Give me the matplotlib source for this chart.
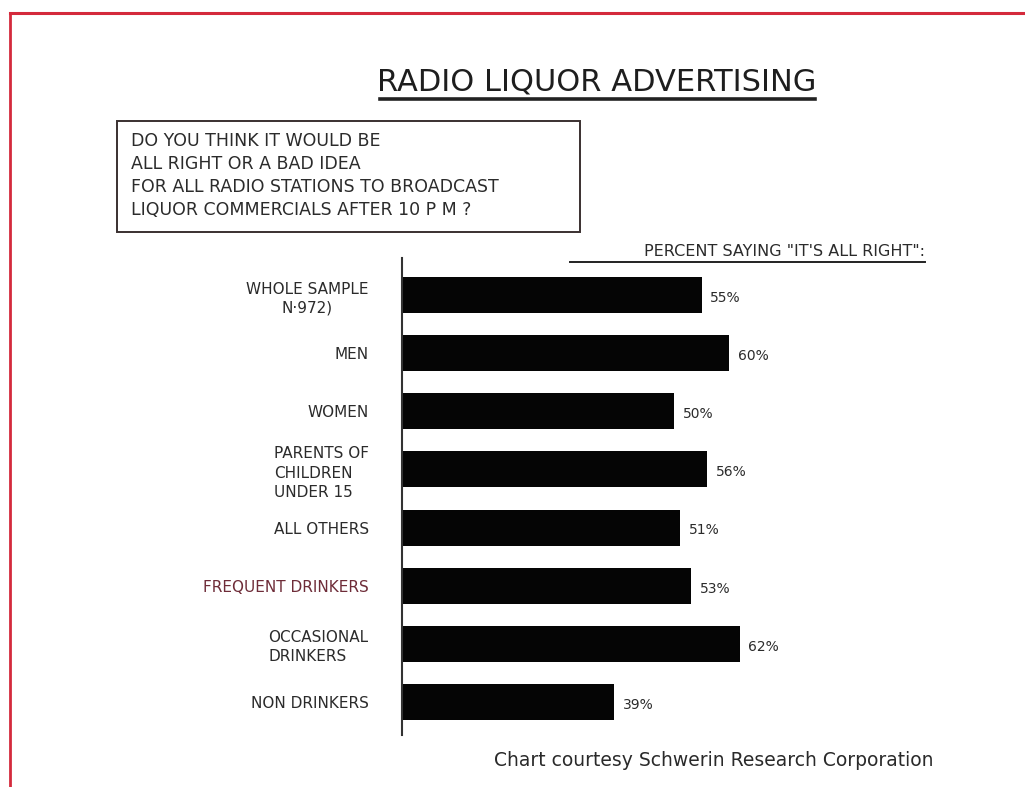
import matplotlib.pyplot as plt
from matplotlib.lines import Line2D
from matplotlib.patches import Rectangle

groups = ["WHOLE SAMPLE\nN·972)", "MEN", "WOMEN", "PARENTS OF\nCHILDREN\nUNDER 15",
          "ALL OTHERS", "FREQUENT DRINKERS", "OCCASIONAL\nDRINKERS", "NON DRINKERS"]
percent_all_right = [55, 60, 50, 56, 51, 53, 62, 39]
value_labels = ["55%", "60%", "50%", "56%", "51%", "53%", "62%", "39%"]
question = ["DO YOU THINK IT WOULD BE",
            "ALL RIGHT OR A BAD IDEA",
            "FOR ALL RADIO STATIONS TO BROADCAST",
            "LIQUOR COMMERCIALS AFTER 10 P M ?"]

plt.rcParams["font.family"] = "DejaVu Sans"
ink = "#2b2b2b"
red = "#d42a3c"

fig = plt.figure(figsize=(10.25, 7.87), dpi=100)
fig.patch.set_facecolor("white")

# red border of the scanned page
fig.add_artist(Line2D([10/1025, 1], [1 - 13/787, 1 - 13/787], color=red, lw=2.2))
fig.add_artist(Line2D([10/1025, 10/1025], [0, 1 - 13/787], color=red, lw=2.0))

# title and underline
fig.text(597/1025, 1 - 82/787, "RADIO LIQUOR ADVERTISING", ha="center", va="center",
         fontsize=22, color="#1e1e1e")
fig.add_artist(Line2D([380/1025, 815/1025], [1 - 99/787, 1 - 99/787], color="#222222", lw=2.6))

# question box
fig.add_artist(Rectangle((117/1025, 1 - 232/787), 463/1025, 111/787, transform=fig.transFigure,
                         fill=False, edgecolor="#3a3030", lw=1.4))
for k, line in enumerate(question):
    fig.text(131/1025, 1 - (141 + 23*k)/787, line, ha="left", va="center",
             fontsize=12.5, color=ink)

# subheading
fig.text(925/1025, 1 - 252/787, "PERCENT SAYING \"IT'S ALL RIGHT\":", ha="right", va="center",
         fontsize=11.5, color=ink)
fig.add_artist(Line2D([570/1025, 925/1025], [1 - 262/787, 1 - 262/787], color="#222222", lw=1.4))

ax = fig.add_axes([402/1025, 52/787, 572/1025, 477/787])
y = list(range(len(groups)))
ax.barh(y, percent_all_right, height=0.62, color="#050505")
for yi, v, lab in zip(y, percent_all_right, value_labels):
    ax.text(v + 1.6, yi + 0.05, lab, ha="left", va="center", fontsize=10, color=ink)

ax.set_xlim(0, 105)
ax.set_ylim(7.57, -0.64)
ax.set_xticks([])
ax.set_yticks(y)
ax.set_yticklabels(groups, fontsize=11, color=ink, linespacing=1.35)
ax.tick_params(axis="y", length=0, pad=24)
for k, lbl in enumerate(ax.get_yticklabels()):
    lbl.set_multialignment("center" if k == 0 else "left")
    if groups[k] == "FREQUENT DRINKERS":
        lbl.set_color("#6e2c38")
for side in ["top", "right", "bottom"]:
    ax.spines[side].set_visible(False)
ax.spines["left"].set_color("#333333")
ax.spines["left"].set_linewidth(1.5)
ax.set_facecolor("none")

fig.text(933/1025, 1 - 761/787, "Chart courtesy Schwerin Research Corporation", ha="right",
         va="center", fontsize=13.5, color="#2a2a2a")

fig.savefig("out.png", dpi=100, facecolor="white")
